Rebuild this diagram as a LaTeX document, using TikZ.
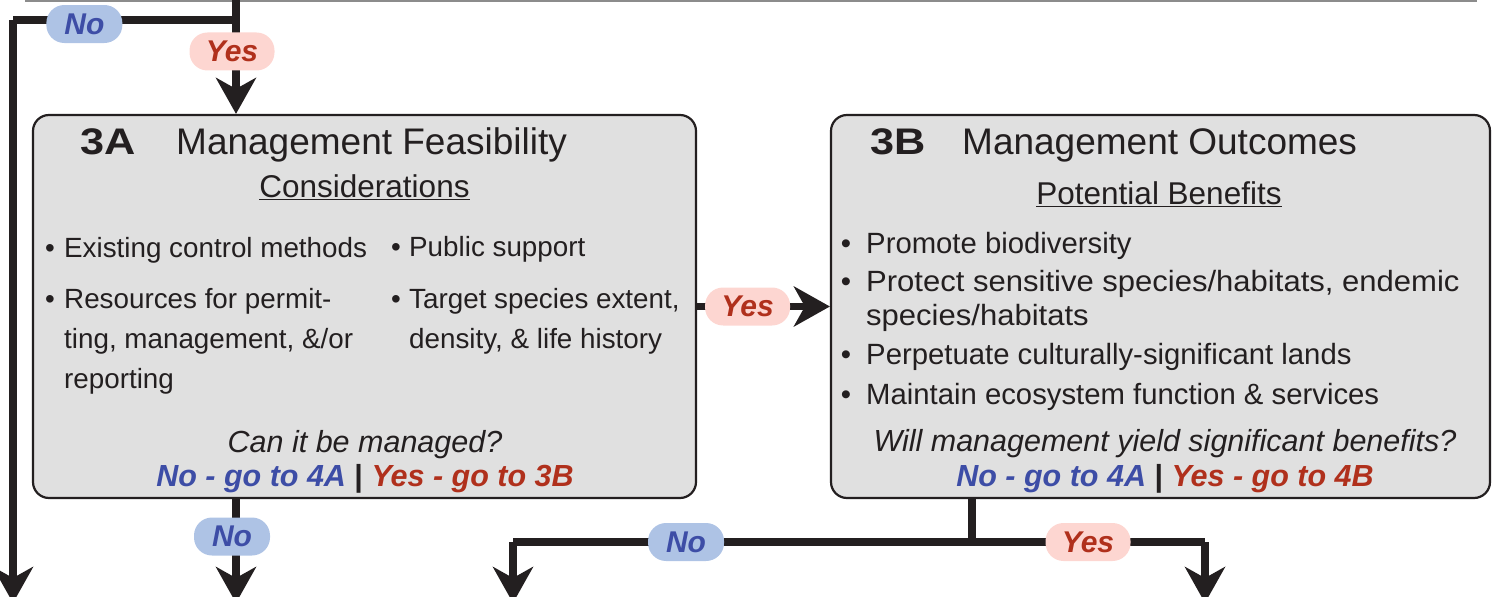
\documentclass[tikz,border=0pt]{standalone}
\usepackage{fontspec}
\setmainfont{Liberation Sans}
\usetikzlibrary{arrows.meta}
\definecolor{ink}{HTML}{231F20}
\definecolor{boxfill}{HTML}{E0E0E0}
\definecolor{noblue}{HTML}{3D4DA6}
\definecolor{nofill}{HTML}{AEC3E5}
\definecolor{yesred}{HTML}{B0301C}
\definecolor{yesfill}{HTML}{FDD6D1}
\definecolor{topgray}{HTML}{8C8C8C}
\newcommand\fsz[1]{\fontsize{#1}{#1}\selectfont}
\begin{document}
\begin{tikzpicture}[x=1pt,y=-1pt,
  card/.style={draw=ink, line width=2.2pt, fill=boxfill, rounded corners=16pt,
    minimum width=#1, minimum height=383pt, inner sep=0pt},
  flowline/.style={draw=ink, line width=7.5pt},
  flow/.style={flowline, -{Stealth[length=36pt, width=40pt, inset=11pt]}},
  pill/.style={rounded corners=18pt, minimum height=38pt, inner sep=0pt,
    font=\fsz{30}\bfseries\itshape},
  nopill/.style={pill, fill=nofill, text=noblue, minimum width=76pt},
  yespill/.style={pill, fill=yesfill, text=yesred, minimum width=85pt},
  txt/.style={inner sep=0pt, text=ink},
  title/.style={txt, anchor=base west, font=\fsz{37}},
  sub/.style={txt, anchor=base, font=\fsz{31.5}},
  bula/.style={txt, anchor=base west, font=\fsz{27.8}},
  dota/.style={txt, anchor=base, font=\fsz{27.8}},
  bulb/.style={txt, anchor=base west, font=\fsz{29.3}},
  dotb/.style={txt, anchor=base, font=\fsz{29.3}},
  quest/.style={txt, anchor=base, font=\fsz{30.5}\itshape},
  answ/.style={txt, anchor=base, font=\fsz{30.5}\bfseries\itshape},
]
\useasboundingbox (0,0) rectangle (1492,597);

% edge of the box above
\draw[topgray, line width=2pt] (25,0.5) -- (1477,0.5);

% boxes
\node[card=663pt] (box3a) at (364.5,306.5) {};
\node[card=659pt] (box3b) at (1160.5,306.5) {};

% coordinates
\coordinate (top) at (236,-5);
\coordinate (j1) at (236,20);
\coordinate (c1) at (13,20);
\coordinate (out1) at (13,603);
\coordinate (out2) at (236,603);
\coordinate (j2) at (972,542);
\coordinate (l2) at (513,542);
\coordinate (r2) at (1205,542);
\coordinate (outL) at (513,603);
\coordinate (outR) at (1205,603);

% connectors
\draw[flowline] (j1) -- (c1);
\draw[flow] (c1) -- (out1);
\path (j1) -- (c1) node[nopill, pos=0.68, yshift=-4pt] (no1) {No};
\draw[flow] (top) -- (top |- box3a.north) node[yespill, pos=0.475, xshift=-4pt] (yes1) {Yes};
\draw[flow] (box3a.east) -- (box3b.west) node[yespill, pos=0.38] (yes2) {Yes};
\draw[flow] (box3a.south -| top) -- (out2) node[nopill, pos=0.36, xshift=-4pt] (no2) {No};
\draw[flowline] (box3b.south -| j2) -- (j2);
\draw[flowline] (j2) -- (l2);
\draw[flow] (l2) -- (outL);
\draw[flowline] (j2) -- (r2);
\draw[flow] (r2) -- (outR);
\path (j2) -- (l2) node[nopill, pos=0.623] (no3) {No};
\path (j2) -- (r2) node[yespill, pos=0.498] (yes3) {Yes};

% box 3A text
\node[title] (h3a) at (80,154) {\bfseries\scalebox{1.17}[1]{3A}};
\node[title] (h3at) at (176,154) {Management Feasibility};
\node[sub] (s3a) at (364.5,197) {\underline{Considerations}};
\node[dota] (d1) at (50,257) {•};
\node[bula] (a1) at (64,257) {Existing control methods};
\node[dota] (d2) at (50,308) {•};
\node[bula] (a2) at (64,308) {Resources for permit-};
\node[bula] (a3) at (64,348) {ting, management, \&/or};
\node[bula] (a4) at (64,388) {reporting};
\node[dota] (d3) at (396,256) {•};
\node[bula] (a5) at (409,256) {Public support};
\node[dota] (d4) at (396,308) {•};
\node[bula] (a6) at (409,308) {Target species extent,};
\node[bula] (a7) at (409,348) {density, \& life history};
\node[quest] (q3a) at (365,452) {Can it be managed?};
\node[answ] (ans3a) at (365,486) {\textcolor{noblue}{No - go to 4A} {\upshape\textcolor{ink}{|}} \textcolor{yesred}{Yes - go to 3B}};

% box 3B text
\node[title] (h3b) at (870,154) {\bfseries\scalebox{1.17}[1]{3B}};
\node[title] (h3bt) at (962,154) {Management Outcomes};
\node[sub] (s3b) at (1159,204) {\underline{Potential Benefits}};
\node[dotb] (e1) at (846,253) {•};
\node[bulb] (b1) at (866,253) {Promote biodiversity};
\node[dotb] (e2) at (846,291) {•};
\node[bulb] (b2) at (866,291) {\scalebox{1.059}[1]{Protect sensitive species/habitats, endemic}};
\node[bulb] (b3) at (866,325) {\scalebox{1.059}[1]{species/habitats}};
\node[dotb] (e3) at (846,364) {•};
\node[bulb] (b4) at (866,364) {Perpetuate culturally-significant lands};
\node[dotb] (e4) at (846,404) {•};
\node[bulb] (b5) at (866,404) {Maintain ecosystem function \& services};
\node[quest] (q3b) at (1165,451) {Will management yield significant benefits?};
\node[answ] (ans3b) at (1165,486) {\textcolor{noblue}{No - go to 4A} {\upshape\textcolor{ink}{|}} \textcolor{yesred}{Yes - go to 4B}};
\end{tikzpicture}
\end{document}
